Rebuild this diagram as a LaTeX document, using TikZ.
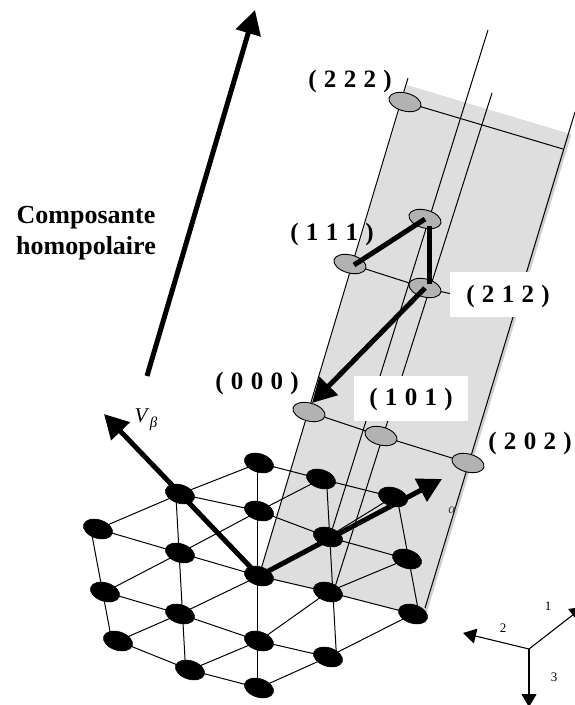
\documentclass[tikz,border=0pt]{standalone}
\usepackage{fontspec}
\setmainfont{Liberation Serif}
\usetikzlibrary{arrows.meta,shapes.geometric,backgrounds}
\definecolor{band}{HTML}{DEDEDE}
\definecolor{bandshadow}{HTML}{D0D0D0}
\definecolor{oval}{HTML}{B2B2B2}
\newcommand\gappedtext[1]{\spaceskip 7.3pt\relax #1}
\tikzset{
 x=1pt,y=-1pt,
 dot/.style={ellipse,fill=black,draw=black,line width=.6pt,minimum width=30pt,minimum height=18.5pt,inner sep=0pt,rotate=-18},
 gdot/.style={ellipse,fill=oval,draw=black,line width=.9pt,minimum width=33pt,minimum height=18pt,inner sep=0pt,rotate=-15},
 thin line/.style={line width=1pt,black},
 thick arrow/.style={line width=5pt,-{Triangle[length=24pt,width=25pt]}},
 thick link/.style={line width=5pt,line cap=butt},
 axis arrow/.style={line width=1.1pt,-{Triangle[length=13pt,width=15pt]}},
 coord/.style={font=\bfseries\fontsize{25}{27}\selectfont,inner sep=0pt},
 whitebox/.style={fill=white,inner sep=0pt},
 small/.style={font=\fontsize{13}{14}\selectfont,inner sep=0pt}
}
\begin{document}
\begin{tikzpicture}
\useasboundingbox (0,0) rectangle (575,705);
\clip (0,0) rectangle (575,705);
% lattice
\foreach \n/\p in {a1/{259,463},a2/{321,479},a3/{393,497},
 b0/{180,494},b1/{259,511},b2/{328,537},b3/{407,559},
 c0/{98,529},c1/{180,553},c2/{259,576},c3/{328,592},c4/{413,614},
 d0/{105,592},d1/{180,614},d2/{259,641},d3/{328,657},
 e0/{118,641},e1/{190,670},e2/{259,688}}
 {\node[dot] (\n) at (\p) {};}
% raised states
\node[gdot] (s222) at (405,102) {};
\node[gdot] (s111) at (350,264) {};
\node[gdot] (stop) at (425,219) {};
\node[gdot] (s212) at (425,288) {};
\node[gdot] (s000) at (309,412) {};
\node[gdot] (s101) at (381,436) {};
\node[gdot] (s202) at (468,463) {};
% free ends
\coordinate (l1t) at (408,78);
\coordinate (l2b) at (332,530);
\coordinate (l2t) at (488,30);
\coordinate (l3b) at (335,587);
\coordinate (l3t) at (492,93);
\coordinate (l4b) at (425,608);
\coordinate (l4t) at (575,112);
\coordinate (r222) at (563,149);
\coordinate (r212) at (452,294);
\coordinate (v0t) at (91,530);
\coordinate (v0b) at (112,642);
\coordinate (v1t) at (176,497);
\coordinate (v1b) at (185.5,668);
\coordinate (v2t) at (257.5,463);
\coordinate (v2b) at (257.5,688);
\coordinate (v3t) at (326.5,479);
\coordinate (v3b) at (336.5,657);
\coordinate (v4t) at (397,497);
\coordinate (v4b) at (419,614);
\begin{scope}[on background layer]
 \fill[bandshadow] (567,133) -- (571.5,134.5) -- (427,612) -- (413,614) -- cycle;
 \fill[band] (c2.center) -- (407,85) -- (567,133) -- (l4b) -- (c4.center) -- cycle;
 \draw[thin line] (c0.center) -- (c1.center) -- (c2.center) -- (c3.center) -- (c4.center);
 \draw[thin line] (d0.center) -- (d1.center) -- (d2.center) -- (d3.center);
 \draw[thin line] (e0.center) -- (e1.center) -- (e2.center);
 \draw[thin line] (b0.center) -- (b1.center) -- (b2.center) -- (b3.center);
 \draw[thin line] (a1.center) -- (a2.center) -- (a3.center);
 \draw[thin line] (c0.center) -- (b0.center) -- (a1.center);
 \draw[thin line] (d0.center) -- (c1.center) -- (b1.center) -- (a2.center);
 \draw[thin line] (e0.center) -- (d1.center) -- (c2.center) -- (b2.center) -- (a3.center);
 \draw[thin line] (e1.center) -- (d2.center) -- (c3.center) -- (b3.center);
 \draw[thin line] (e2.center) -- (d3.center) -- (c4.center);
 \draw[thin line] (v2t) -- (v2b);
 \draw[thin line] (v1t) -- (v1b);
 \draw[thin line] (v0t) -- (v0b);
 \draw[thin line] (v3t) -- (v3b);
 \draw[thin line] (v4t) -- (v4b);
 \draw[thin line] (c2.center) -- (l1t);
 \draw[thin line] (l2b) -- (l2t);
 \draw[thin line] (l3b) -- (l3t);
 \draw[thin line] (l4b) -- (l4t);
 \draw[thin line] (s222.center) -- (r222);
 \draw[thin line] (s111.center) -- (s212.center) -- (r212);
 \draw[thin line] (s000.center) -- (s101.center) -- (s202.center);
\end{scope}
% white label boxes
\node[whitebox,minimum width=105pt,minimum height=45pt] (box212) at (502.5,294.5) {};
\node[whitebox,minimum width=114pt,minimum height=45pt] (box101) at (411,398.5) {};
% arrows
\coordinate (bigb) at (147,376);
\coordinate (bigt) at (255,10);
\coordinate (vb) at (104,414);
\coordinate (va) at (442,479);
\coordinate (t000) at (312,403);
\draw[thick arrow] (bigb) -- (bigt);
\draw[thick arrow] (c2.center) -- (vb);
\draw[thick arrow] (c2.center) -- (va);
\draw[thick arrow] (s212.center) -- (t000);
\draw[thick link] (s111.center) ++(4,1) -- (stop.center);
\draw[thick link] (429,226) -- (429,284);
% axes
\coordinate (ax) at (529,649);
\coordinate (ax1) at (583,607);
\coordinate (ax2) at (463,633);
\coordinate (ax3) at (529,707);
\draw[axis arrow] (ax) -- (ax1);
\draw[axis arrow] (ax) -- (ax2);
\draw[axis arrow] (ax) -- (ax3);
% text
\node[coord] (t222) at (350,81) {\gappedtext{( 2 2 2 )}};
\node[coord] (t111) at (332,234) {\gappedtext{( 1 1 1 )}};
\node[coord] (t212) at (508,296) {\gappedtext{( 2 1 2 )}};
\node[coord] (t000b) at (257,383) {\gappedtext{( 0 0 0 )}};
\node[coord] (t101) at (411,399) {\gappedtext{( 1 0 1 )}};
\node[coord] (t202) at (530,443) {\gappedtext{( 2 0 2 )}};
\node[font=\bfseries\fontsize{26}{30.7}\selectfont,align=center,inner sep=0pt] (comp) at (86,233) {Composante\\homopolaire};
\node[font=\itshape\fontsize{21}{22}\selectfont,inner sep=0pt] (vbl) at (146,420) {V\raisebox{-5pt}{\fontsize{15}{15}\selectfont\,β}};
\node[font=\itshape\fontsize{14}{14}\selectfont,text=black!75,inner sep=0pt] (al) at (452,510) {α};
\node[small] (n1) at (548,606) {1};
\node[small] (n2) at (503,628) {2};
\node[small] (n3) at (554,677) {3};
\end{tikzpicture}
\end{document}
